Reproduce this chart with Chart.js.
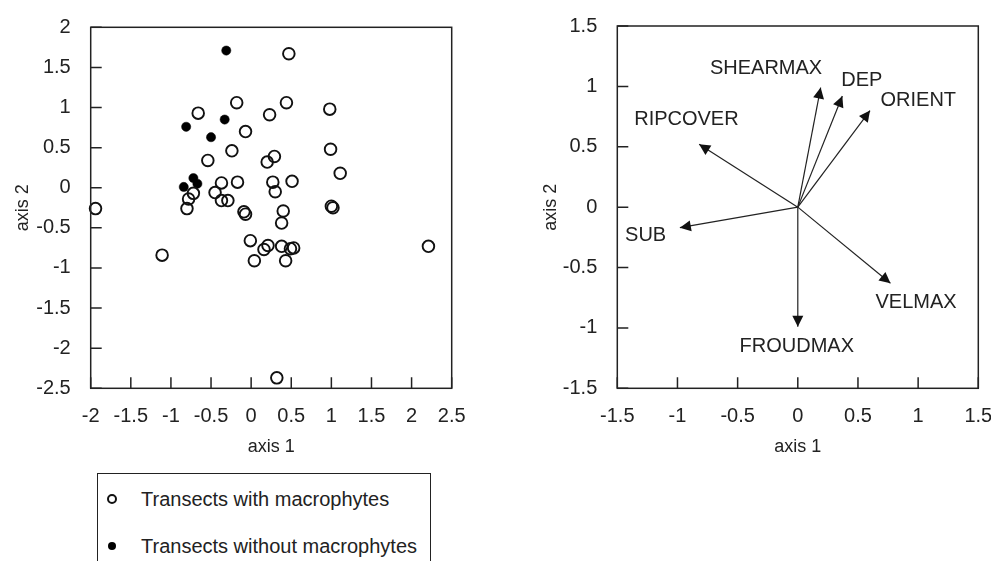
<!DOCTYPE html>
<html>
<head>
<meta charset="utf-8">
<script src="https://cdn.jsdelivr.net/npm/chart.js@4.4.1/dist/chart.umd.min.js"></script>
<style>
html,body{margin:0;padding:0;background:#fff;width:991px;height:561px;overflow:hidden;}
#left{position:absolute;left:0;top:0;}
#right{position:absolute;left:500px;top:0;}
#legend{position:absolute;left:97px;top:473px;width:334px;height:120px;border:1.5px solid #222;box-sizing:border-box;
  font-family:"Liberation Sans",Arial,sans-serif;font-size:20px;color:#222;}
#legend .item{position:absolute;left:0;height:24px;line-height:24px;white-space:nowrap;}
#legend .mark{position:absolute;box-sizing:border-box;border-radius:50%;}
#legend .txt{position:absolute;left:43px;top:0;}
</style>
</head>
<body>
<canvas id="left" width="480" height="470"></canvas>
<canvas id="right" width="491" height="470"></canvas>
<div id="legend"></div>
<script>
// ---------- data: left ordination plot ----------
const seriesNames = ['Transects with macrophytes', 'Transects without macrophytes'];
const withAxis1 = [-1.94,-1.11,0.47,-0.66,-0.18,0.44,0.98,0.23,-0.07,-0.24,-0.54,0.20,0.29,0.99,1.11,
  -0.37,-0.17,0.27,0.51,0.30,-0.45,-0.72,-0.78,-0.80,-0.37,-0.29,-0.09,-0.07,0.40,0.38,
  -0.01,0.04,0.16,0.21,0.38,0.49,0.53,0.43,1.00,1.02,2.21,0.32];
const withAxis2 = [-0.26,-0.84,1.67,0.93,1.06,1.06,0.98,0.91,0.70,0.46,0.34,0.32,0.39,0.48,0.18,
  0.06,0.07,0.07,0.08,-0.05,-0.06,-0.07,-0.14,-0.26,-0.16,-0.16,-0.30,-0.33,-0.29,-0.44,
  -0.66,-0.91,-0.77,-0.72,-0.73,-0.76,-0.75,-0.91,-0.23,-0.25,-0.73,-2.37];
const withoutAxis1 = [-0.31,-0.81,-0.33,-0.50,-0.84,-0.72,-0.67];
const withoutAxis2 = [1.71,0.76,0.85,0.63,0.01,0.12,0.05];

// ---------- data: right biplot (environmental vectors) ----------
const varNames = ['SHEARMAX','DEP','ORIENT','RIPCOVER','SUB','VELMAX','FROUDMAX'];
const varAxis1 = [0.19,0.37,0.60,-0.82,-0.98,0.77,0.00];
const varAxis2 = [0.99,0.92,0.80,0.52,-0.17,-0.63,-0.99];

// ---------- axis ranges / ticks ----------
const leftXRange = [-2, 2.5], leftYRange = [-2.5, 2];
const rightXRange = [-1.5, 1.5], rightYRange = [-1.5, 1.5];
const tickStep = 0.5;

// ---------- styling ----------
const FONT = '"Liberation Sans", Arial, sans-serif';
const INK = '#222';
Chart.defaults.font.family = FONT;
Chart.defaults.color = INK;

const framePlugin = {
  id: 'frame',
  afterDraw(chart) {
    const {ctx, chartArea: a, scales: {x, y}} = chart;
    ctx.save();
    ctx.strokeStyle = INK;
    ctx.lineWidth = 1.5;
    ctx.strokeRect(a.left, a.top, a.right - a.left, a.bottom - a.top);
    ctx.beginPath();
    x.ticks.forEach(t => { const px = x.getPixelForValue(t.value); ctx.moveTo(px, a.bottom); ctx.lineTo(px, a.bottom - 11); });
    y.ticks.forEach(t => { const py = y.getPixelForValue(t.value); ctx.moveTo(a.left, py); ctx.lineTo(a.left + 11, py); });
    ctx.stroke();
    ctx.restore();
  }
};

function axisCfg(range, isX, fitSize) {
  return {
    type: 'linear', min: range[0], max: range[1],
    ticks: {stepSize: tickStep, autoSkip: false, maxRotation: 0, padding: isX ? 16 : 20,
            font: {size: 20}, color: INK,
            callback: v => String(Math.round(v * 10) / 10)},
    grid: {display: false, drawTicks: false},
    border: {display: false},
    title: {display: true, text: isX ? 'axis 1' : 'axis 2', font: {size: 18}, color: INK,
            padding: {top: 12, bottom: 12}},
    afterFit(axis) {
      if (isX) axis.height = fitSize; else axis.width = fitSize;
      axis.paddingLeft = 0; axis.paddingRight = 0; axis.paddingTop = 0; axis.paddingBottom = 0;
    }
  };
}

// ---------- left chart ----------
const leftChart = new Chart(document.getElementById('left'), {
  type: 'scatter',
  data: {
    datasets: [
      {label: seriesNames[0], data: withAxis1.map((v, i) => ({x: v, y: withAxis2[i]})),
       pointRadius: 5.8, pointBorderWidth: 1.9, borderColor: '#111', backgroundColor: 'rgba(0,0,0,0)',
       pointStyle: 'circle', clip: false},
      {label: seriesNames[1], data: withoutAxis1.map((v, i) => ({x: v, y: withoutAxis2[i]})),
       pointRadius: 4.6, pointBorderWidth: 0.5, borderColor: '#000', backgroundColor: '#000',
       pointStyle: 'circle', clip: false}
    ]
  },
  options: {
    responsive: false, animation: false, devicePixelRatio: 1,
    layout: {padding: {top: 27.3, right: 28.3, left: 0, bottom: 0}},
    plugins: {legend: {display: false}, tooltip: {enabled: false}},
    scales: {x: axisCfg(leftXRange, true, 81.7), y: axisCfg(leftYRange, false, 90.7)}
  },
  plugins: [framePlugin]
});

// HTML legend built from the chart's datasets
(function buildLegend() {
  const box = document.getElementById('legend');
  const tops = [13, 60];
  leftChart.data.datasets.forEach((ds, i) => {
    const item = document.createElement('div');
    item.className = 'item';
    item.style.top = tops[i] + 'px';
    const mk = document.createElement('span');
    mk.className = 'mark';
    if (i === 0) {
      mk.style.width = '10px'; mk.style.height = '10px'; mk.style.left = '9px'; mk.style.top = '7px';
      mk.style.border = '2px solid #111';
    } else {
      mk.style.width = '8px'; mk.style.height = '8px'; mk.style.left = '10px'; mk.style.top = '8px';
      mk.style.background = '#000';
    }
    const tx = document.createElement('span');
    tx.className = 'txt';
    tx.textContent = ds.label;
    item.appendChild(mk); item.appendChild(tx);
    box.appendChild(item);
  });
})();

// ---------- right chart ----------
const labelPlacement = {
  SHEARMAX: {dx: 1.5, dy: -18.7, align: 'right'},
  DEP:      {dx: -1, dy: -15.5, align: 'left'},
  ORIENT:   {dx: 10.5, dy: -10, align: 'left'},
  RIPCOVER: {dx: -12.7, dy: -24.8, align: 'center'},
  SUB:      {dx: -13.7, dy: 7.9, align: 'right'},
  VELMAX:   {dx: -15, dy: 19, align: 'left'},
  FROUDMAX: {dx: -1, dy: 19.8, align: 'center'}
};

const arrowPlugin = {
  id: 'arrows',
  afterDatasetsDraw(chart) {
    const {ctx, scales: {x, y}} = chart;
    const ox = x.getPixelForValue(0), oy = y.getPixelForValue(0);
    ctx.save();
    varNames.forEach((name, i) => {
      const tx = x.getPixelForValue(varAxis1[i]), ty = y.getPixelForValue(varAxis2[i]);
      const ang = Math.atan2(ty - oy, tx - ox);
      const L = 11, W = 5.5;
      const bx = tx - L * Math.cos(ang), by = ty - L * Math.sin(ang);
      ctx.beginPath();
      ctx.moveTo(tx, ty);
      ctx.lineTo(bx + W * Math.sin(ang), by - W * Math.cos(ang));
      ctx.lineTo(bx - W * Math.sin(ang), by + W * Math.cos(ang));
      ctx.closePath();
      ctx.fillStyle = '#111';
      ctx.fill();
      const p = labelPlacement[name];
      ctx.font = '20px ' + FONT;
      ctx.fillStyle = INK;
      ctx.textAlign = p.align;
      ctx.textBaseline = 'middle';
      ctx.fillText(name, tx + p.dx, ty + p.dy);
    });
    ctx.restore();
  }
};

new Chart(document.getElementById('right'), {
  type: 'scatter',
  data: {
    datasets: varNames.map((name, i) => ({
      label: name,
      data: [{x: 0, y: 0}, {x: varAxis1[i], y: varAxis2[i]}],
      showLine: true, borderColor: '#222', borderWidth: 1.2, pointRadius: 0, clip: false
    }))
  },
  options: {
    responsive: false, animation: false, devicePixelRatio: 1,
    layout: {padding: {top: 26, right: 12.7, left: 28, bottom: 0}},
    plugins: {legend: {display: false}, tooltip: {enabled: false}},
    scales: {x: axisCfg(rightXRange, true, 81.7), y: axisCfg(rightYRange, false, 89.3)}
  },
  plugins: [framePlugin, arrowPlugin]
});
</script>
</body>
</html>
